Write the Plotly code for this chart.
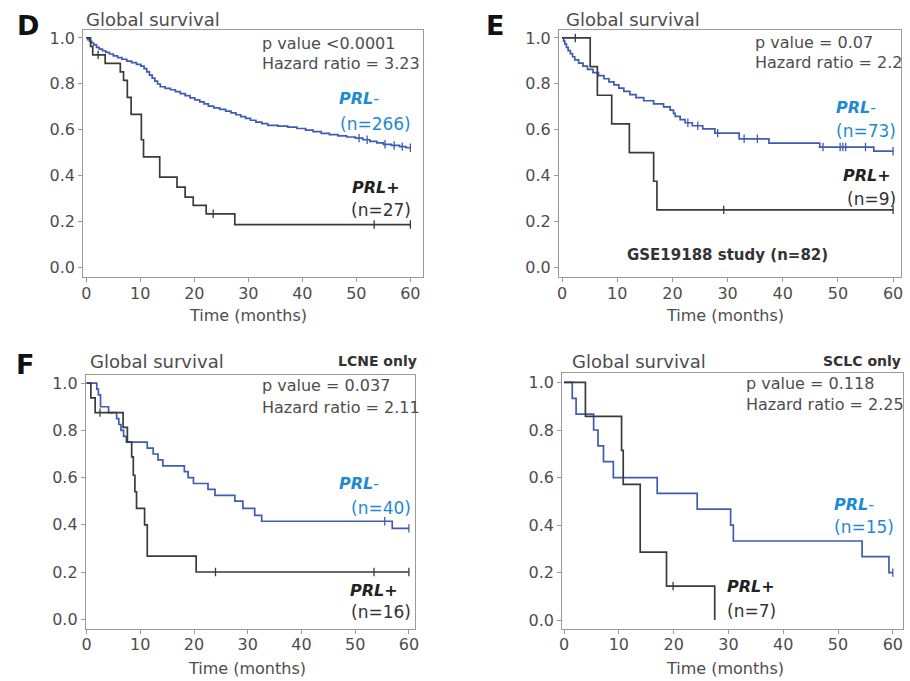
import plotly.graph_objects as go

W, H = 910, 681
FONT = "DejaVu Sans"
BLUE_LINE = "#3d5cb2"
BLUE_TEXT = "#1f8ad2"
DARK_LINE = "#3a3a3a"
GRAY_TEXT = "#4d4d4d"
AXIS_GRAY = "#9a9a9a"

# ---------------- Panel D: all patients ----------------
d_neg_time = [0, 0.3, 0.6, 1.0, 1.4, 1.9, 2.4, 3.0, 3.6, 4.3, 5.0, 5.8, 6.6, 7.5, 8.4,
              9.3, 10.1, 10.7, 11.2, 11.7, 12.2, 12.7, 13.2, 13.7, 14.6, 15.6, 16.5,
              17.4, 18.3, 19.2, 20.1, 21.0, 21.8, 22.6, 23.6, 24.7, 25.8, 26.8, 27.7,
              28.6, 29.5, 30.4, 31.4, 32.5, 33.6, 35.5, 37.3, 39.0, 40.6, 42.0, 43.5,
              45.0, 46.6, 48.2, 49.8, 51.2, 52.5, 53.8, 55.0, 56.5, 58.0, 59.2]
d_neg_surv = [1.0, 0.993, 0.985, 0.978, 0.970, 0.959, 0.951, 0.944, 0.937, 0.930, 0.922,
              0.914, 0.907, 0.899, 0.892, 0.885, 0.877, 0.866, 0.852, 0.838, 0.825, 0.812,
              0.799, 0.787, 0.780, 0.774, 0.766, 0.757, 0.748, 0.739, 0.730, 0.721, 0.712,
              0.703, 0.695, 0.688, 0.681, 0.673, 0.665, 0.657, 0.649, 0.641, 0.633, 0.626,
              0.619, 0.615, 0.611, 0.605, 0.598, 0.591, 0.584, 0.578, 0.573, 0.568, 0.563,
              0.556, 0.549, 0.542, 0.536, 0.531, 0.526, 0.521]
d_neg_cens = [50.5, 52.0, 55.3, 57.0, 58.5, 60.0]

d_pos_time = [0, 0.8, 1.2, 3.5, 6.3, 6.9, 7.6, 8.3, 10.2, 10.6, 13.6, 16.8, 18.3, 19.8, 22.2, 27.5]
d_pos_surv = [1.0, 0.963, 0.926, 0.889, 0.852, 0.815, 0.741, 0.667, 0.556, 0.481, 0.393,
              0.349, 0.306, 0.270, 0.233, 0.186]
d_pos_cens = [2.2, 23.5, 53.3, 60.0]

# ---------------- Panel E: GSE19188 ----------------
e_neg_time = [0, 0.3, 0.5, 0.8, 1.1, 1.5, 1.9, 2.3, 3.0, 3.8, 4.6, 5.6, 6.6, 7.6, 8.5,
              9.4, 10.3, 11.2, 12.3, 13.4, 14.8, 16.6, 18.4, 19.6, 20.2, 20.5, 21.4,
              22.3, 23.6, 25.5, 27.7, 32.1, 37.5, 46.7, 56.5]
e_neg_surv = [1.0, 0.986, 0.973, 0.959, 0.945, 0.932, 0.918, 0.904, 0.890, 0.877, 0.863,
              0.849, 0.836, 0.822, 0.808, 0.795, 0.781, 0.767, 0.753, 0.740, 0.726, 0.712,
              0.699, 0.685, 0.671, 0.658, 0.644, 0.630, 0.617, 0.603, 0.585, 0.560, 0.541,
              0.524, 0.506]
e_neg_cens = [22.8, 24.6, 28.2, 33.0, 35.4, 47.3, 50.4, 50.9, 51.4, 55.0, 60.0]

e_pos_time = [0, 5.1, 6.4, 9.0, 12.2, 16.6, 17.2]
e_pos_surv = [1.0, 0.875, 0.75, 0.625, 0.5, 0.375, 0.25]
e_pos_cens = [2.4, 29.3, 60.0]

# ---------------- Panel F: LCNE only ----------------
f_neg_time = [0, 1.9, 2.2, 2.6, 4.1, 5.6, 6.0, 6.4, 6.9, 7.4, 11.3, 12.4, 13.3, 14.2,
              18.2, 18.9, 19.9, 22.6, 23.9, 27.6, 29.1, 31.3, 32.6, 56.9]
f_neg_surv = [1.0, 0.975, 0.95, 0.90, 0.875, 0.85, 0.825, 0.80, 0.775, 0.75, 0.725, 0.70,
              0.675, 0.65, 0.625, 0.60, 0.575, 0.55, 0.525, 0.50, 0.47, 0.44, 0.415, 0.385]
f_neg_cens = [55.5, 60.0]

f_pos_time = [0, 0.8, 1.6, 6.8, 7.6, 8.4, 8.7, 9.0, 9.3, 10.8, 11.3, 20.4]
f_pos_surv = [1.0, 0.9375, 0.875, 0.8125, 0.75, 0.6875, 0.61, 0.54, 0.47, 0.40, 0.267, 0.20]
f_pos_cens = [2.5, 24.0, 53.5, 60.0]

# ---------------- Panel SCLC only ----------------
s_neg_time = [0, 1.5, 2.2, 5.4, 6.2, 7.2, 9.0, 17.0, 24.3, 30.4, 30.9, 54.4, 59.3]
s_neg_surv = [1.0, 0.933, 0.867, 0.80, 0.733, 0.667, 0.60, 0.533, 0.467, 0.40, 0.333,
              0.267, 0.20]
s_neg_cens = [60.0]

s_pos_time = [0, 3.9, 10.5, 10.8, 13.9, 18.7, 27.5]
s_pos_surv = [1.0, 0.857, 0.714, 0.571, 0.286, 0.143, 0.0]
s_pos_cens = [19.9]

x_ticks = [0, 10, 20, 30, 40, 50, 60]
y_ticks = [0.0, 0.2, 0.4, 0.6, 0.8, 1.0]


def step_xy(times, surv, end=60.0):
    xs, ys = list(times), list(surv)
    if ys[-1] > 0 and xs[-1] < end:
        xs.append(end)
        ys.append(ys[-1])
    return xs, ys


def surv_at(times, surv, t):
    s = surv[0]
    for ti, si in zip(times, surv):
        if ti <= t:
            s = si
    return s


# axis boxes in pixels (left, right, top, bottom) and data ranges
panels = [
    dict(box=(80, 423, 29, 277), xr=[-0.55, 62.39], yr=[-0.0435, 1.035],
         curves=[(d_neg_time, d_neg_surv, d_neg_cens, BLUE_LINE),
                 (d_pos_time, d_pos_surv, d_pos_cens, DARK_LINE)]),
    dict(box=(560, 905, 29, 277), xr=[-0.54, 61.44], yr=[-0.0435, 1.035],
         curves=[(e_neg_time, e_neg_surv, e_neg_cens, BLUE_LINE),
                 (e_pos_time, e_pos_surv, e_pos_cens, DARK_LINE)]),
    dict(box=(82.7, 415, 375, 630), xr=[-0.11, 61.2], yr=[-0.042, 1.035],
         curves=[(f_neg_time, f_neg_surv, f_neg_cens, BLUE_LINE),
                 (f_pos_time, f_pos_surv, f_pos_cens, DARK_LINE)]),
    dict(box=(563.3, 907.3, 373.3, 630), xr=[-0.31, 61.92], yr=[-0.038, 1.039],
         curves=[(s_neg_time, s_neg_surv, s_neg_cens, BLUE_LINE),
                 (s_pos_time, s_pos_surv, s_pos_cens, DARK_LINE)]),
]

fig = go.Figure()
layout_axes = {}
for i, p in enumerate(panels):
    k = "" if i == 0 else str(i + 1)
    l, r, t, b = p["box"]
    for times, surv, cens, color in p["curves"]:
        xs, ys = step_xy(times, surv)
        fig.add_trace(go.Scatter(
            x=xs, y=ys, mode="lines", line=dict(color=color, width=1.7, shape="hv"),
            xaxis="x" + k, yaxis="y" + k, showlegend=False, hoverinfo="skip"))
        fig.add_trace(go.Scatter(
            x=cens, y=[surv_at(times, surv, c) for c in cens], mode="markers",
            marker=dict(symbol="line-ns", size=6, color=color,
                        line=dict(width=1.3, color=color)),
            xaxis="x" + k, yaxis="y" + k, showlegend=False, hoverinfo="skip"))
    common = dict(showgrid=False, zeroline=False, showline=True, mirror=True,
                  linecolor=AXIS_GRAY, linewidth=1.3, ticks="outside", ticklen=4,
                  tickcolor=AXIS_GRAY, tickwidth=1.2,
                  tickfont=dict(family=FONT, size=16, color=GRAY_TEXT))
    layout_axes["xaxis" + k] = dict(common, domain=[l / W, r / W], range=p["xr"],
                                    tickvals=x_ticks, anchor="y" + k,
                                    ticklabelstandoff=-3)
    layout_axes["yaxis" + k] = dict(common, domain=[1 - b / H, 1 - t / H], range=p["yr"],
                                    tickvals=y_ticks, tickformat=".1f", anchor="x" + k)

annotations = []


def note(text, x, y, xanchor="left", size=16, color=GRAY_TEXT):
    annotations.append(dict(text=text, x=x / W, y=1 - y / H, xref="paper", yref="paper",
                            xanchor=xanchor, yanchor="middle", showarrow=False,
                            font=dict(family=FONT, size=size, color=color)))


# panel letters
note("<b>D</b>", 11, 25, size=27, color="#111111")
note("<b>E</b>", 484, 25, size=27, color="#111111")
note("<b>F</b>", 10, 365, size=27, color="#111111")

# panel D
note("Global survival", 81, 19, size=18)
note("p value &lt;0.0001", 258, 43, size=16)
note("Hazard ratio = 3.23", 258, 63, size=16)
note("<b><i>PRL</i></b>-", 380, 98, "right", 16, BLUE_TEXT)
note("(n=266)", 413, 123, "right", 17, BLUE_TEXT)
note("<b><i>PRL+</i></b>", 402, 187, "right", 16, "#222222")
note("(n=27)", 413, 210, "right", 17, "#333333")
note("Time (months)", 246, 315, "center", 16)

# panel E
note("Global survival", 565, 19, size=18)
note("p value = 0.07", 756, 42, size=16)
note("Hazard ratio = 2.2", 756, 62, size=16)
note("<b><i>PRL</i></b>-", 882, 107, "right", 16, BLUE_TEXT)
note("(n=73)", 902, 130, "right", 17, BLUE_TEXT)
note("<b><i>PRL+</i></b>", 897, 175, "right", 16, "#222222")
note("(n=9)", 902, 199, "right", 17, "#333333")
note("<b>GSE19188 study (n=82)</b>", 730, 255, "center", 15, "#333333")
note("Time (months)", 727, 315, "center", 16)

# panel F
note("Global survival", 85, 362, size=18)
note("<b>LCNE only</b>", 419, 361, "right", 14, "#333333")
note("p value = 0.037", 258, 386, size=16)
note("Hazard ratio = 2.11", 258, 408, size=16)
note("<b><i>PRL</i></b>-", 380, 484, "right", 16, BLUE_TEXT)
note("(n=40)", 413, 508, "right", 17, BLUE_TEXT)
note("<b><i>PRL+</i></b>", 400, 591, "right", 16, "#222222")
note("(n=16)", 413, 613, "right", 17, "#333333")
note("Time (months)", 245, 669, "center", 16)

# panel SCLC
note("Global survival", 571, 362, size=18)
note("<b>SCLC only</b>", 907, 361, "right", 14, "#333333")
note("p value = 0.118", 747, 384, size=16)
note("Hazard ratio = 2.25", 747, 405, size=16)
note("<b><i>PRL</i></b>-", 880, 505, "right", 16, BLUE_TEXT)
note("(n=15)", 900, 528, "right", 17, BLUE_TEXT)
note("<b><i>PRL+</i></b>", 727, 587, "left", 16, "#222222")
note("(n=7)", 727, 612, "left", 17, "#333333")
note("Time (months)", 727, 669, "center", 16)

fig.update_layout(
    width=W, height=H, margin=dict(l=0, r=0, t=0, b=0),
    paper_bgcolor="white", plot_bgcolor="white",
    font=dict(family=FONT, color=GRAY_TEXT),
    annotations=annotations, **layout_axes)

fig.write_html("out.html")
